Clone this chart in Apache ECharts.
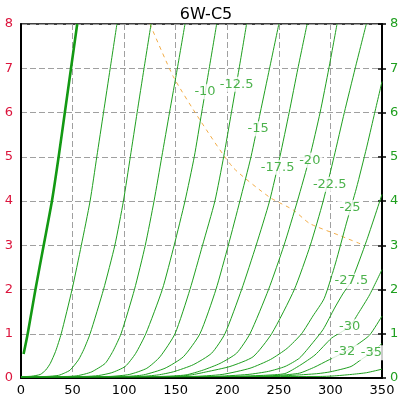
<!DOCTYPE html>
<html><head><meta charset="utf-8">
<script src="https://cdn.jsdelivr.net/npm/echarts@6/dist/echarts.min.js"></script>
<style>html,body{margin:0;padding:0;background:#fff}#c{width:408px;height:398px}</style>
</head><body><div id="c"></div>
<script>
const titleText = '6W-C5';
const xTicks = [0, 50, 100, 150, 200, 250, 300, 350];
const yTicks = [0, 1, 2, 3, 4, 5, 6, 7, 8];

const thickLine = [[2.5,0.54],[6.5,1],[14,2],[22,3],[30,4],[36.5,5],[42.5,6],[48.5,7],[54.5,8]];
const c2_5 = [[0,0.03],[10,0.04],[18.7,0.08],[24,0.18],[28.4,0.33],[33.5,0.6],[39,1],[49.5,2],[58.5,3],[67,4],[73.5,5],[80,6],[86.5,7],[93,8]];
const c5 = [[0,0.03],[25,0.035],[36.4,0.06],[42,0.11],[47.7,0.18],[55.7,0.41],[61,0.65],[67,1],[80,2],[91,3],[99.3,4],[106,5],[112.6,6],[119.3,7],[126.1,8]];
const c7_5 = [[0,0.03],[45,0.035],[54.2,0.05],[62,0.09],[68.7,0.14],[81.6,0.33],[89,0.6],[97,1],[110,2],[120.5,3],[129,4],[136.5,5],[144,6],[151.6,7],[159,8]];
const c10 = [[0,0.03],[62,0.035],[75,0.055],[88,0.12],[101,0.26],[111,0.55],[121,1],[137,2],[148.5,3],[159,4],[168,5],[175.2,6],[182.5,7],[189.7,8]];
const c12_5 = [[0,0.03],[85,0.035],[105,0.08],[122,0.22],[134.8,0.48],[149.3,1],[163.8,2],[176,3],[188,4],[196.5,5],[204,6],[211.5,7],[218.7,8]];
const c15 = [[0,0.03],[100,0.035],[118.7,0.07],[139.6,0.22],[157.4,0.48],[173.5,1],[189,2],[201,3],[212.2,4],[223,5],[232,6],[241,7],[250,8]];
const c17_5 = [[0,0.03],[115,0.035],[133,0.07],[147.7,0.14],[167,0.3],[184.8,0.56],[197.7,1],[213.9,2],[228,3],[241,4],[251,5],[260,6],[268.5,7],[277.4,8]];
const c20 = [[0,0.03],[135,0.035],[160,0.07],[176.7,0.18],[193,0.33],[209,0.56],[222,1],[240,2],[255,3],[268,4],[280,5],[290,6],[298.5,7],[306.4,8]];
const c22_5 = [[0,0.03],[150,0.035],[165,0.07],[180,0.14],[202.6,0.26],[225,0.48],[243,1],[265,2],[280.5,3],[293,4],[303.5,5],[313.5,6],[324,7],[334.8,8]];
const c25 = [[0,0.03],[165,0.035],[195,0.08],[222,0.22],[242,0.42],[258,0.67],[272,1],[283,1.4],[294,1.8],[305,2.6],[315.5,3.5],[325.2,4.29],[335,5.2],[342,5.9],[350,6.7]];
const c27_5 = [[0,0.03],[185,0.035],[220,0.08],[240,0.15],[256,0.26],[270,0.45],[283,0.8],[293,1.1],[304,1.58],[312,1.9],[320.3,2.19],[335,3.1],[350,4.15]];
const c30 = [[0,0.03],[200,0.035],[235,0.06],[255.8,0.1],[270,0.28],[285,0.52],[301,0.9],[310,1.03],[318.7,1.16],[327,1.46],[338,1.88],[350,2.45]];
const c32 = [[0,0.03],[220,0.035],[250,0.06],[270,0.11],[285,0.25],[297.7,0.4],[305,0.48],[313.8,0.59],[325,0.74],[338,0.97],[350,1.4]];
const c35 = [[0,0.03],[240,0.035],[270,0.07],[288,0.1],[300,0.14],[320,0.26],[330,0.42],[339.7,0.57],[350,0.78]];
const c37_5 = [[0,0.03],[290,0.035],[302.5,0.045],[320,0.08],[335,0.12],[350,0.2]];
const dashedLine = [[125,8],[147.7,6.81],[173.5,5.83],[205.5,4.76],[241.3,4.08],[263.8,3.8],[280,3.49],[309,3.22],[330.3,3.02]];

const labelText = ['-10','-12.5','-15','-17.5','-20','-22.5','-25','-27.5','-30','-32','-35'];
const labelX = [178.4, 209.1, 230, 248.8, 280, 299.3, 319, 320.3, 318.7, 313.8, 339.7];
const labelY = [6.47, 6.64, 5.63, 4.76, 4.92, 4.38, 3.85, 2.19, 1.16, 0.59, 0.57];

const GREEN = '#1f9f1f';
const FONT = 'DejaVu Sans';
const curves = [c2_5, c5, c7_5, c10, c12_5, c15, c17_5, c20, c22_5, c25, c27_5, c30, c32, c35, c37_5];

const series = curves.map(d => ({
  type: 'line', data: d, showSymbol: false, symbol: 'none', smooth: 0.2,
  lineStyle: {color: GREEN, width: 1}, z: 2, silent: true
}));
series.push({type: 'line', data: thickLine, showSymbol: false, symbol: 'none', smooth: 0.2,
  lineStyle: {color: '#139913', width: 2.6}, z: 3, silent: true});
series.push({type: 'line', data: dashedLine, showSymbol: false, symbol: 'none', smooth: 0.2,
  lineStyle: {color: '#f2ad48', width: 1, type: [4, 4]}, z: 1, silent: true});
series.push({type: 'scatter', data: labelX.map((x, i) => [x, labelY[i], labelText[i]]),
  symbolSize: 0, z: 6, silent: true,
  label: {show: true, position: 'inside', formatter: p => p.data[2], color: GREEN, fontSize: 13,
    fontFamily: FONT, backgroundColor: '#fff', padding: [1, 2]}});

const gridLine = {show: true, lineStyle: {color: '#a0a0a0', width: 1, type: [6, 3]}};
const chart = echarts.init(document.getElementById('c'), null, {renderer: 'canvas'});
chart.setOption({
  animation: false,
  backgroundColor: '#fff',
  title: {text: titleText, left: 201, top: 2, textAlign: 'center',
    textStyle: {fontFamily: FONT, fontSize: 16, fontWeight: 'normal', color: '#000'}},
  grid: {left: 21, right: 26, top: 24, bottom: 20, containLabel: false, show: true,
    borderColor: '#000', borderWidth: 1.5, backgroundColor: 'transparent'},
  xAxis: {type: 'value', min: xTicks[0], max: xTicks[xTicks.length - 1], interval: 50,
    axisLine: {show: true, lineStyle: {color: '#000', width: 2}}, axisTick: {show: false},
    axisLabel: {color: '#000', fontSize: 13, fontFamily: FONT, margin: 6, showMinLabel: true, showMaxLabel: true},
    splitLine: gridLine},
  yAxis: [
    {type: 'value', position: 'left', min: yTicks[0], max: yTicks[yTicks.length - 1], interval: 1,
      axisLine: {show: true, lineStyle: {color: '#000', width: 2}}, axisTick: {show: false},
      axisLabel: {color: '#dc143c', fontSize: 13, fontFamily: FONT, margin: 8, showMinLabel: true, showMaxLabel: true},
      splitLine: gridLine},
    {type: 'value', position: 'right', min: yTicks[0], max: yTicks[yTicks.length - 1], interval: 1,
      axisLine: {show: true, lineStyle: {color: '#000', width: 2}},
      axisTick: {show: true, length: 4, lineStyle: {color: '#000', width: 1.5}},
      axisLabel: {color: GREEN, fontSize: 13, fontFamily: FONT, margin: 8, showMinLabel: true, showMaxLabel: true},
      splitLine: {show: false}},
    {type: 'value', position: 'right', min: yTicks[0], max: yTicks[yTicks.length - 1], interval: 1,
      axisLine: {show: false}, axisTick: {show: true, inside: true, length: 4, lineStyle: {color: '#000', width: 1.5}},
      axisLabel: {show: false}, splitLine: {show: false}}
  ],
  series: series
});
</script></body></html>
